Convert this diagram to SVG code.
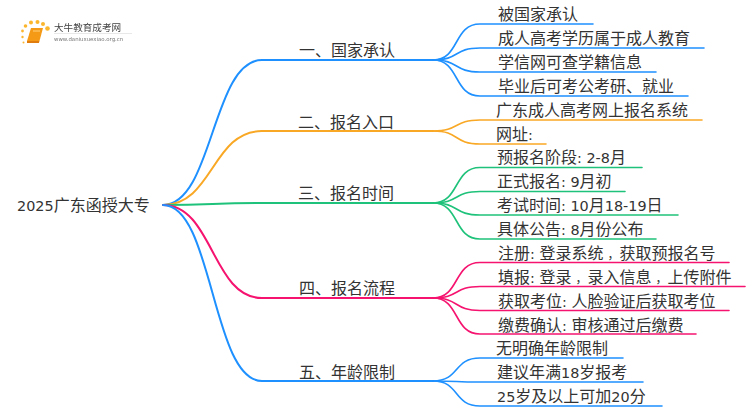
<svg xmlns="http://www.w3.org/2000/svg" width="750" height="410" viewBox="0 0 750 410">
<defs><filter id="soft" x="-5%" y="-5%" width="110%" height="110%"><feGaussianBlur stdDeviation="0.35"/></filter></defs>
<style>
text{font-family:"DejaVu Sans","Noto Sans CJK SC",sans-serif;font-size:16px;fill:#333}
.l{font-size:14.400px}
.m{font-size:12px}
.c{fill:none;stroke-width:2;stroke-linecap:round}
.b{stroke:#1e90ff}.o{stroke:#f9a825}.g{stroke:#1fc27a}.p{stroke:#f5136f}
.f{stroke-width:1.600}
</style>
<rect width="750" height="410" fill="#fff"/>
<g id="logo" filter="url(#soft)">
<g fill="#fbb62d"><circle cx="25.500" cy="26" r="1.800"/><circle cx="22.500" cy="31" r="1.400"/><circle cx="31" cy="22.500" r="2"/><circle cx="37.500" cy="22" r="2"/><circle cx="43" cy="24" r="2"/><circle cx="47.500" cy="28.500" r="2.300"/><circle cx="22.500" cy="37" r="1.200"/><circle cx="23.500" cy="42.500" r="1"/></g>
<path d="M31 28h12l-3.500 13h-12.500z" fill="#f59a16"/><path d="M27 41h12.500l-.6 2h-11.900z" fill="#e07b10"/><path d="M33 31h7" stroke="#ffd27a" stroke-width="1"/>
<text x="54" y="31" style="font-size:9.600px;fill:#444">大牛教育成考网</text>
<path d="M54 33.500h78" stroke="#e8e8e8" stroke-width="1"/>
<text x="54" y="41" style="font-size:5.400px;fill:#777">www.daniuxuexiao.org.cn</text>
</g>
<g id="connectors">
<path class="c b" d="M163 205C213 205 212 60 262 60H433"/>
<path class="c o" d="M163 205C213 205 212 131 262 131H433"/>
<path class="c g" d="M163 205C213 205 212 203 262 203H433"/>
<path class="c p" d="M163 205C213 205 212 298 262 298H433"/>
<path class="c b" d="M163 205C213 205 212 381 262 381H433"/>
<path class="c b f" d="M433 60C460 60 453 24 480 24H593"/>
<path class="c b f" d="M433 60C460 60 453 48 480 48H704"/>
<path class="c b f" d="M433 60C460 60 453 72 480 72H656"/>
<path class="c b f" d="M433 60C460 60 453 96 480 96H688"/>
<path class="c o f" d="M433 131C460 131 453 120 480 120H702"/>
<path class="c o f" d="M433 131C460 131 453 144 480 144H546"/>
<path class="c g f" d="M433 203C460 203 453 167.500 480 167.500H642"/>
<path class="c g f" d="M433 203C460 203 453 191.500 480 191.500H625"/>
<path class="c g f" d="M433 203C460 203 453 215 480 215H678"/>
<path class="c g f" d="M433 203C460 203 453 239 480 239H656"/>
<path class="c p f" d="M433 298C460 298 453 262.500 480 262.500H729"/>
<path class="c p f" d="M433 298C460 298 453 286.500 480 286.500H745"/>
<path class="c p f" d="M433 298C460 298 453 310.500 480 310.500H729"/>
<path class="c p f" d="M433 298C460 298 453 334 480 334H696"/>
<path class="c b f" d="M433 381C460 381 453 358 480 358H623"/>
<path class="c b f" d="M433 381C460 381 453 382 480 382H643"/>
<path class="c b f" d="M433 381C460 381 453 406 480 406H662"/>
</g>
<g id="root"><text x="17" y="210.500"><tspan class="l">2025</tspan>广东函授大专</text></g>
<g id="n1"><text x="299" y="56">一、国家承认</text></g>
<g id="n2"><text x="298" y="127.500">二、报名入口</text></g>
<g id="n3"><text x="298" y="199">三、报名时间</text></g>
<g id="n4"><text x="299" y="294">四、报名流程</text></g>
<g id="n5"><text x="299" y="377.500">五、年龄限制</text></g>
<g id="n1-1"><text x="498" y="20">被国家承认</text></g>
<g id="n1-2"><text x="498" y="44">成人高考学历属于成人教育</text></g>
<g id="n1-3"><text x="498" y="68">学信网可查学籍信息</text></g>
<g id="n1-4"><text x="498" y="92">毕业后可考公考研、就业</text></g>
<g id="n2-1"><text x="496" y="116">广东成人高考网上报名系统</text></g>
<g id="n2-2"><text x="496" y="140">网址<tspan class="l">:</tspan></text></g>
<g id="n3-1"><text x="497" y="163">预报名阶段<tspan class="l">: 2-8</tspan>月</text></g>
<g id="n3-2"><text x="497" y="187">正式报名<tspan class="l">: 9</tspan>月初</text></g>
<g id="n3-3"><text x="497" y="211">考试时间<tspan class="l">: 10</tspan>月<tspan class="l">18-19</tspan>日</text></g>
<g id="n3-4"><text x="497" y="235">具体公告<tspan class="l">: 8</tspan>月份公布</text></g>
<g id="n4-1"><text x="498" y="259">注册<tspan class="l">: </tspan>登录系统<tspan class="m" dx="4">，</tspan>获取预报名号</text></g>
<g id="n4-2"><text x="498" y="283">填报<tspan class="l">: </tspan>登录<tspan class="m" dx="4">，</tspan>录入信息<tspan class="m" dx="4">，</tspan>上传附件</text></g>
<g id="n4-3"><text x="498" y="307">获取考位<tspan class="l">: </tspan>人脸验证后获取考位</text></g>
<g id="n4-4"><text x="498" y="331">缴费确认<tspan class="l">: </tspan>审核通过后缴费</text></g>
<g id="n5-1"><text x="496" y="354">无明确年龄限制</text></g>
<g id="n5-2"><text x="497" y="378">建议年满<tspan class="l">18</tspan>岁报考</text></g>
<g id="n5-3"><text x="497" y="402"><tspan class="l">25</tspan>岁及以上可加<tspan class="l">20</tspan>分</text></g>
</svg>
